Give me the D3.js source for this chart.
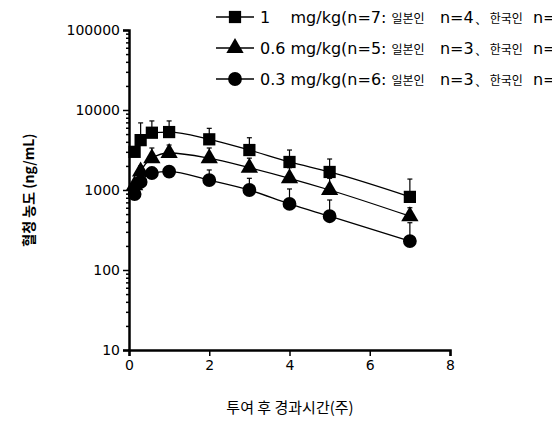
<!DOCTYPE html>
<html><head><meta charset="utf-8">
<script src="https://cdn.jsdelivr.net/npm/d3@7"></script>
<style>body{margin:0;background:#fff}text{font-family:"Noto Sans CJK KR","Noto Sans",sans-serif}</style>
</head><body><svg id="c" width="552" height="423"></svg>
<script>
var times = [0.14, 0.29, 0.57, 1, 2, 3, 4, 5, 7];
var dose1 = [3000, 4200, 5200, 5300, 4300, 3160, 2240, 1680, 820];
var dose1Err = [3000, 6900, 7300, 7300, 5900, 4500, 3160, 2440, 1370];
var dose06 = [1150, 1700, 2500, 2900, 2500, 1900, 1400, 1000, 470];
var dose06Err = [1150, 2000, 3350, 3650, 3350, 2500, 1900, 1400, 600];
var dose03 = [890, 1260, 1630, 1700, 1330, 1000, 670, 470, 230];
var dose03Err = [890, 1260, 1630, 1950, 1780, 1400, 1030, 750, 390];
var legendDose = ['1    mg/kg', '0.6 mg/kg', '0.3 mg/kg'];
var legendN = [['n=7', 'n=4', 'n=3'], ['n=5', 'n=3', 'n=2'], ['n=6', 'n=3', 'n=3']];
var yTicks = [10, 100, 1000, 10000, 100000];
var xTicks = [0, 2, 4, 6, 8];

var svg = d3.select('#c');
var x = d3.scaleLinear().domain([0, 8]).range([129, 450]);
var y = d3.scaleLog().domain([10, 100000]).range([350, 30]);

// axes
var yAx = svg.append('g').attr('transform', 'translate(129,0)')
  .call(d3.axisLeft(y).tickValues(yTicks).tickFormat(d3.format('d')).tickSize(6));
var minor = [];
for (var e = 10; e < 100000; e *= 10) for (var k = 2; k < 10; k++) minor.push(e * k);
svg.append('g').attr('transform', 'translate(129,0)')
  .call(d3.axisLeft(y).tickValues(minor).tickFormat('').tickSize(3))
  .select('.domain').remove();
var xAx = svg.append('g').attr('transform', 'translate(0,350)')
  .call(d3.axisBottom(x).tickValues(xTicks).tickSize(6));
svg.selectAll('.domain').attr('stroke-width', 2.5);
svg.selectAll('.tick line').attr('stroke-width', 1.5);
svg.selectAll('.tick text').attr('font-size', 14).attr('fill', '#000').style('font-family', 'Verdana,"DejaVu Sans",sans-serif');
yAx.selectAll('.tick text').attr('x', -9);
xAx.selectAll('.tick text').attr('y', 10);

svg.append('text').attr('transform', 'translate(34,190) rotate(-90)').attr('text-anchor', 'middle')
  .attr('font-size', 14).attr('font-weight', 'bold').text('혈청 농도 (ng/mL)');
svg.append('text').attr('x', 290).attr('y', 413).attr('text-anchor', 'middle')
  .attr('font-size', 15).text('투여 후 경과시간(주)');

var series = [
  {v: dose1, err: dose1Err, sym: d3.symbolSquare, size: 150},
  {v: dose06, err: dose06Err, sym: d3.symbolTriangle, size: 130},
  {v: dose03, err: dose03Err, sym: d3.symbolCircle, size: 150}
];
var line = d3.line().curve(d3.curveMonotoneX).x(function(d) { return x(d[0]); }).y(function(d) { return y(d[1]); });

series.forEach(function(s) {
  var pts = times.map(function(t, i) { return [t, s.v[i]]; });
  svg.append('path').attr('d', line(pts)).attr('fill', 'none').attr('stroke', '#000').attr('stroke-width', 1.3);
  times.forEach(function(t, i) {
    if (s.err[i] > s.v[i]) {
      svg.append('line').attr('x1', x(t)).attr('x2', x(t)).attr('y1', y(s.v[i])).attr('y2', y(s.err[i]))
        .attr('stroke', '#000').attr('stroke-width', 1.2);
      svg.append('line').attr('x1', x(t) - 2.5).attr('x2', x(t) + 2.5).attr('y1', y(s.err[i])).attr('y2', y(s.err[i]))
        .attr('stroke', '#000').attr('stroke-width', 1.2);
    }
  });
  svg.selectAll(null).data(pts).enter().append('path')
    .attr('d', d3.symbol().type(s.sym).size(s.size))
    .attr('transform', function(d) { return 'translate(' + x(d[0]) + ',' + y(d[1]) + ')'; })
    .attr('fill', '#000');
});

// legend
series.forEach(function(s, i) {
  var ly = 17 + i * 31;
  svg.append('line').attr('x1', 216).attr('x2', 254).attr('y1', ly).attr('y2', ly).attr('stroke', '#000').attr('stroke-width', 1.3);
  svg.append('path').attr('d', d3.symbol().type(s.sym).size(s.size)).attr('transform', 'translate(235,' + ly + ')');
  var t = svg.append('text').attr('x', 260).attr('y', ly + 6).attr('font-size', 16).attr('xml:space', 'preserve')
    .style('white-space', 'pre').style('font-family', '"DejaVu Sans",sans-serif');
  t.append('tspan').text(legendDose[i] + '(' + legendN[i][0] + ': ');
  t.append('tspan').attr('font-size', 12).style('font-family', '"Noto Sans CJK KR"').text('일본인');
  t.append('tspan').text('   ' + legendN[i][1] + '、');
  t.append('tspan').attr('font-size', 12).style('font-family', '"Noto Sans CJK KR"').text('한국인');
  t.append('tspan').text('  ' + legendN[i][2] + ')');
});
</script></body></html>
